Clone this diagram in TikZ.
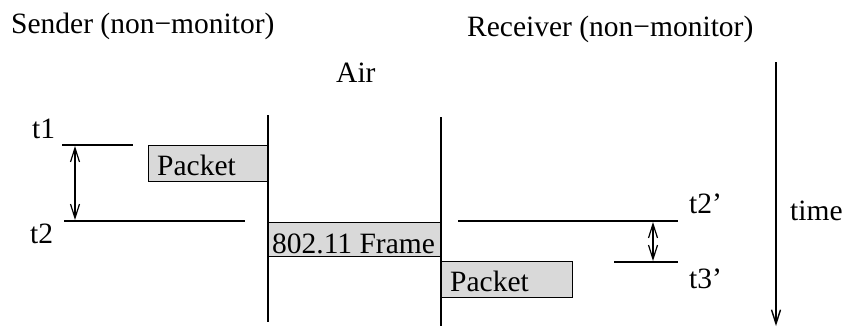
\documentclass[tikz,border=0pt]{standalone}
\usepackage{fontspec}
\setmainfont{Liberation Serif}
\usetikzlibrary{arrows.meta}
\definecolor{boxgray}{HTML}{D9D9D9}
\begin{document}
\begin{tikzpicture}[x=1pt,y=-1pt,
  lbl/.style={font=\fontsize{29.5}{32}\selectfont, inner sep=0pt, anchor=base west},
  pkt/.style={draw, fill=boxgray, line width=1.4pt, inner sep=0pt, anchor=north west},
  ln/.style={line width=1.4pt},
  tip/.style={line width=1.2pt, {Straight Barb[length=14pt,width=9pt]}-{Straight Barb[length=14pt,width=9pt]}},
  ttip/.style={line width=1.4pt, -{Straight Barb[length=14pt,width=9pt]}}]
\useasboundingbox (0,0) rectangle (843,327);
% headings
\node[lbl] (snd) at (11,33) {Sender (non−monitor)};
\node[lbl] (rcv) at (467,36) {Receiver (non−monitor)};
\node[lbl] (air) at (336,82) {Air};
% boxes
\node[pkt, minimum width=120pt, minimum height=36pt] (p1) at (148,145) {};
\node[pkt, minimum width=173pt, minimum height=34pt] (fr) at (268,222) {};
\node[pkt, minimum width=131pt, minimum height=36pt] (p2) at (441,261) {};
\node[lbl] (p1t) at (157,175) {Packet};
\node[lbl] (frt) at (272,253) {802.11 Frame};
\node[lbl] (p2t) at (450,291) {Packet};
% vertical lines
\coordinate (s1) at (268,115); \coordinate (e1) at (268,322);
\coordinate (s2) at (441,117); \coordinate (e2) at (441,326);
\draw[ln] (s1) -- (e1);
\draw[ln] (s2) -- (e2);
% time marks
\coordinate (a1) at (62,145); \coordinate (b1) at (133,145);
\coordinate (a2) at (64,221); \coordinate (b2) at (245,221);
\coordinate (a3) at (458,221); \coordinate (b3) at (678,221);
\coordinate (a4) at (614,262); \coordinate (b4) at (678,262);
\draw[ln] (a1) -- (b1);
\draw[ln] (a2) -- (b2);
\draw[ln] (a3) -- (b3);
\draw[ln] (a4) -- (b4);
\node[lbl] (t1) at (32,138) {t1};
\node[lbl] (t2) at (30,243) {t2};
\node[lbl] (t2p) at (689,213) {t2’};
\node[lbl] (t3p) at (689,288) {t3’};
% double arrows
\coordinate (d1a) at (75,146); \coordinate (d1b) at (75,220);
\coordinate (d2a) at (653,222); \coordinate (d2b) at (653,261);
\draw[tip] (d1a) -- (d1b);
\draw[tip] (d2a) -- (d2b);
% time axis
\coordinate (ta) at (776,62); \coordinate (tb) at (776,326);
\draw[ttip] (ta) -- (tb);
\node[lbl] (time) at (790,220) {time};
\end{tikzpicture}
\end{document}
